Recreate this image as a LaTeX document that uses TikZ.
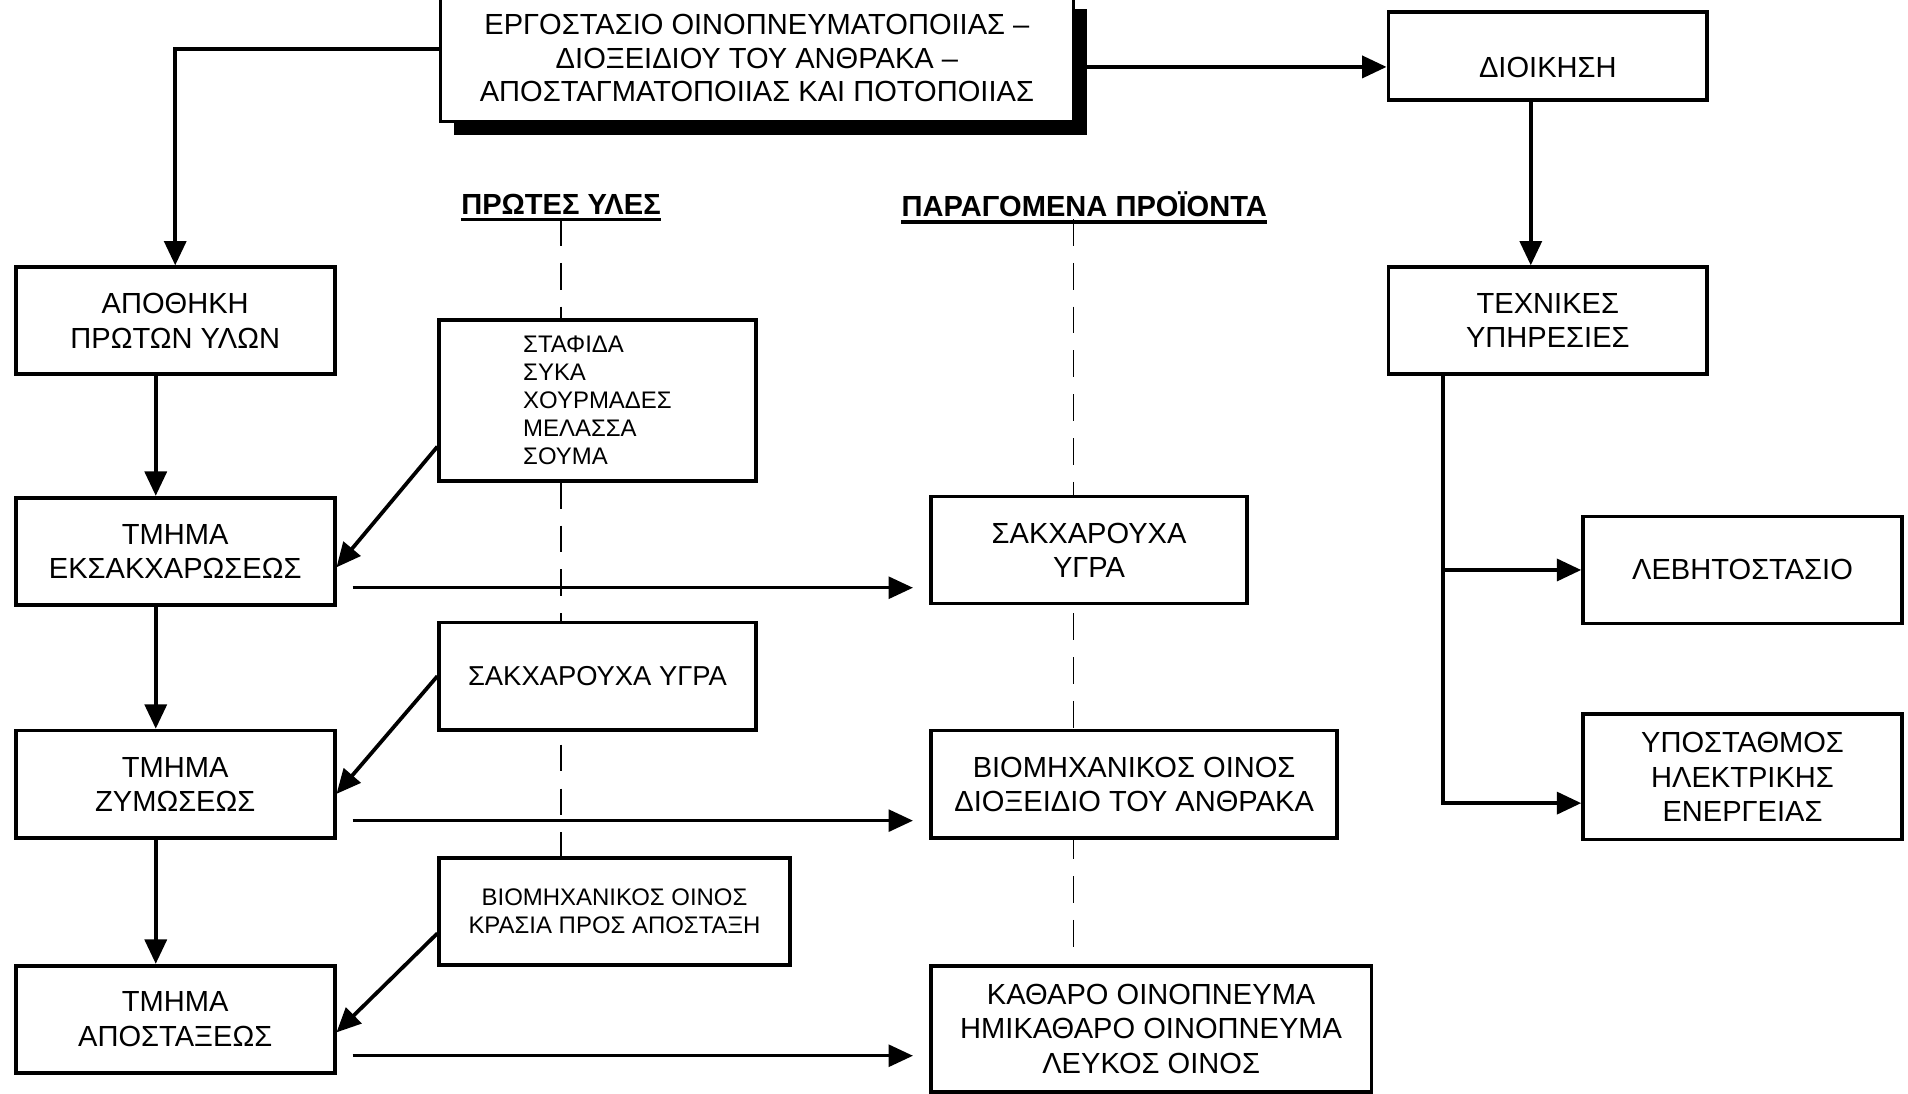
\documentclass[tikz,border=0pt]{standalone}
\usepackage{fontspec}
\setmainfont{Liberation Sans}
\usepackage{tikz}
\usetikzlibrary{arrows.meta,shadows,backgrounds}
\tikzset{
	boxnode/.style={rectangle, draw=black, fill=white, line width=2.2pt, minimum width=6.55cm, minimum height=2.2cm, align=center, font=\fontsize{17}{20}\selectfont},
	smallbox/.style={boxnode, font=\fontsize{14}{16.5}\selectfont},
	titlebox/.style={boxnode, line width=1.6pt, font=\fontsize{17}{19.6}\selectfont, drop shadow={shadow xshift=0.28cm, shadow yshift=-0.28cm, fill=black, opacity=1}},
	hdrnode/.style={inner sep=0pt, font=\fontsize{17}{20}\selectfont\bfseries},
	uline/.style={line width=2pt},
	flow/.style={->, line width=2.2pt},
	hflow/.style={->, line width=1.8pt, shorten >=0.33cm},
	guide/.style={line width=0.8pt, dash pattern=on 0.55cm off 0.35cm},
	>={Triangle[length=0.5cm, width=0.45cm]}
}

\begin{document}
\begin{tikzpicture}
	\useasboundingbox (0,0) rectangle (39.2,-22.475);
	%Units
	\node[titlebox, minimum width=13cm, minimum height=2.6cm] at (15.55,-1.2) (erg) {ΕΡΓΟΣΤΑΣΙΟ ΟΙΝΟΠΝΕΥΜΑΤΟΠΟΙΙΑΣ –\\ ΔΙΟΞΕΙΔΙΟΥ ΤΟΥ ΑΝΘΡΑΚΑ –\\ ΑΠΟΣΤΑΓΜΑΤΟΠΟΙΙΑΣ ΚΑΙ ΠΟΤΟΠΟΙΙΑΣ};
	\node[boxnode, minimum height=1.8cm, text height=0.9cm] at (31.8,-1.15) (dio) {ΔΙΟΙΚΗΣΗ};
	\node[boxnode] at (31.8,-6.59) (tex) {ΤΕΧΝΙΚΕΣ\\ ΥΠΗΡΕΣΙΕΣ};
	\node[boxnode] at (35.8,-11.71) (leb) {ΛΕΒΗΤΟΣΤΑΣΙΟ};
	\node[boxnode, minimum height=2.575cm] at (35.8,-15.96) (ypo) {ΥΠΟΣΤΑΘΜΟΣ\\ ΗΛΕΚΤΡΙΚΗΣ\\ ΕΝΕΡΓΕΙΑΣ};
	
	\node[boxnode] at (3.6,-6.59) (apo) {ΑΠΟΘΗΚΗ\\ ΠΡΩΤΩΝ ΥΛΩΝ};
	\node[boxnode] at (3.6,-11.325) (ek) {ΤΜΗΜΑ\\ ΕΚΣΑΚΧΑΡΩΣΕΩΣ};
	\node[boxnode] at (3.6,-16.11) (zym) {ΤΜΗΜΑ\\ ΖΥΜΩΣΕΩΣ};
	\node[boxnode] at (3.6,-20.94) (aps) {ΤΜΗΜΑ\\ ΑΠΟΣΤΑΞΕΩΣ};
	
	%Raw materials
	\node[hdrnode] at (11.525,-4.2) (h1) {ΠΡΩΤΕΣ ΥΛΕΣ};
	\node[smallbox, align=left, minimum width=6.5cm, minimum height=3.3cm] at (12.275,-8.225) (raw1) {ΣΤΑΦΙΔΑ\\ ΣΥΚΑ\\ ΧΟΥΡΜΑΔΕΣ\\ ΜΕΛΑΣΣΑ\\ ΣΟΥΜΑ};
	\node[boxnode, minimum width=6.5cm, font=\fontsize{16}{19}\selectfont] at (12.275,-13.89) (raw2) {ΣΑΚΧΑΡΟΥΧΑ ΥΓΡΑ};
	\node[smallbox, minimum width=7.2cm] at (12.625,-18.725) (raw3) {ΒΙΟΜΗΧΑΝΙΚΟΣ ΟΙΝΟΣ\\ ΚΡΑΣΙΑ ΠΡΟΣ ΑΠΟΣΤΑΞΗ};
	
	%Products
	\node[hdrnode] at (22.275,-4.2) (h2) {ΠΑΡΑΓΟΜΕΝΑ ΠΡΟΪΟΝΤΑ};
	\node[boxnode, minimum width=6.5cm] at (22.375,-11.3) (pr1) {ΣΑΚΧΑΡΟΥΧΑ\\ ΥΓΡΑ};
	\node[boxnode, minimum width=8.35cm] at (23.3,-16.11) (pr2) {ΒΙΟΜΗΧΑΝΙΚΟΣ ΟΙΝΟΣ\\ ΔΙΟΞΕΙΔΙΟ ΤΟΥ ΑΝΘΡΑΚΑ};
	\node[boxnode, minimum width=9.05cm, minimum height=2.575cm] at (23.65,-21.14) (pr3) {ΚΑΘΑΡΟ ΟΙΝΟΠΝΕΥΜΑ\\ ΗΜΙΚΑΘΑΡΟ ΟΙΝΟΠΝΕΥΜΑ\\ ΛΕΥΚΟΣ ΟΙΝΟΣ};
	
	\draw[uline] ([yshift=-3pt]h1.base west) -- ([yshift=-3pt]h1.base east);
	\draw[uline] ([yshift=-3pt]h2.base west) -- ([yshift=-3pt]h2.base east);
	
	\coordinate (g1) at (11.525,-4.5);
	\coordinate (g2) at (22.05,-4.5);
	\begin{scope}[on background layer]
		\draw[guide] (g1) -- (g1 |- raw3.south);
		\draw[guide] (g2) -- (g2 |- pr3.north);
	\end{scope}
	
	%Lines
	\draw[flow] ([yshift=0.2cm]erg.west) -| (apo.north);
	\draw[flow] ([yshift=-0.175cm]erg.east) -- ([yshift=-0.225cm]dio.west);
	\draw[flow] ([xshift=-0.35cm]dio.south) -- ([xshift=-0.35cm]tex.north);
	\draw[flow] ([xshift=-2.15cm]tex.south) |- (leb.west);
	\draw[flow] ([xshift=-2.15cm]tex.south) |- ([yshift=-0.54cm]ypo.west);
	
	\draw[flow] ([xshift=-0.4cm]apo.south) -- ([xshift=-0.4cm]ek.north);
	\draw[flow] ([xshift=-0.4cm]ek.south) -- ([xshift=-0.4cm]zym.north);
	\draw[flow] ([xshift=-0.4cm]zym.south) -- ([xshift=-0.4cm]aps.north);
	
	\draw[flow] ([yshift=-0.95cm]raw1.west) -- ([yshift=-0.33cm]ek.east);
	\draw[flow] (raw2.west) -- ([yshift=-0.2cm]zym.east);
	\draw[flow] ([yshift=-0.45cm]raw3.west) -- ([yshift=-0.27cm]aps.east);
	
	\coordinate (o1) at ([shift={(0.33,-0.75)}]ek.east);
	\coordinate (o2) at ([shift={(0.33,-0.75)}]zym.east);
	\coordinate (o3) at ([shift={(0.33,-0.75)}]aps.east);
	\draw[hflow] (o1) -- (o1 -| pr1.west);
	\draw[hflow] (o2) -- (o2 -| pr2.west);
	\draw[hflow] (o3) -- (o3 -| pr3.west);
\end{tikzpicture}
\end{document}
